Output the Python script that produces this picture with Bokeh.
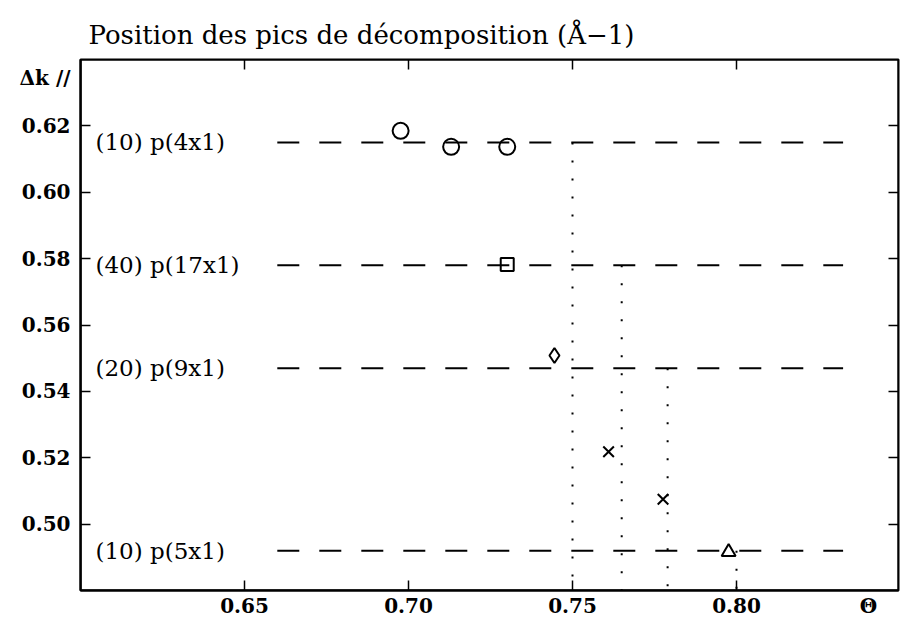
from bokeh.plotting import figure
from bokeh.models import FixedTicker, LinearAxis, Range1d
from bokeh.embed import file_html
from bokeh.resources import INLINE
from bokeh.core.properties import value

# ---------------- data ----------------
title_text = "Position  des pics de décomposition  (Å\u22121)"
x_axis_label = "\u0398"
y_axis_label = "\u0394k //"

x_ticks = [0.65, 0.70, 0.75, 0.80]
x_tick_labels = ["0.65", "0.70", "0.75", "0.80"]
y_ticks = [0.50, 0.52, 0.54, 0.56, 0.58, 0.60, 0.62]
y_tick_labels = ["0.50", "0.52", "0.54", "0.56", "0.58", "0.60", "0.62"]
x_label_pos = 0.8402   # where the Θ sits along the bottom
y_label_pos = 0.6345   # where the Δk // sits along the left

line_labels = ["(10) p(4x1)", "(40) p(17x1)", "(20) p(9x1)", "(10) p(5x1)"]
line_levels = [0.615, 0.578, 0.547, 0.492]
line_start = 0.660
line_end = 0.8325

drop_x = [0.750, 0.765, 0.779, 0.800]
drop_top = [0.615, 0.578, 0.547, 0.492]

circle_x = [0.6976, 0.7130, 0.7301]
circle_y = [0.6185, 0.6137, 0.6137]
square_x = [0.7301]
square_y = [0.5782]
diamond_x = [0.7445]
diamond_y = [0.5508]
cross_x = [0.7610, 0.7776]
cross_y = [0.5218, 0.5075]
triangle_x = [0.7976]
triangle_y = [0.4916]

x_start, y_start, y_end = 0.60, 0.48, 0.64

# ---------------- figure ----------------
W, H = 900, 626
ML, MR, MT = 80, 2, 59
FH = 531
MB = H - MT - FH
px_per_x = 3280.0
x_end = x_start + (W - ML - MR) / px_per_x

SERIF = "DejaVu Serif"

p = figure(width=W, height=H, output_backend="svg", toolbar_location=None,
           x_range=Range1d(x_start, x_end), y_range=Range1d(y_start, y_end),
           min_border_left=ML, min_border_right=MR, min_border_top=MT,
           min_border_bottom=MB, x_axis_location=None, y_axis_location=None)
p.grid.visible = False
p.outline_line_color = "black"
p.outline_line_width = 2
p.background_fill_color = "white"
p.border_fill_color = "white"

p.title.text = title_text
p.title.align = "left"
p.title.offset = 8
p.title.standoff = 19
p.title.text_font = SERIF
p.title.text_font_style = "normal"
p.title.text_font_size = "26px"
p.title.text_color = "black"


def label_axis(ticks, labels):
    ax = LinearAxis(ticker=FixedTicker(ticks=ticks))
    ax.major_label_overrides = {t: l for t, l in zip(ticks, labels)}
    ax.major_tick_line_color = None
    ax.minor_tick_line_color = None
    ax.major_tick_in = 0
    ax.major_tick_out = 0
    ax.axis_line_color = "black"
    ax.axis_line_width = 2
    ax.major_label_text_font = SERIF
    ax.major_label_text_font_style = "bold"
    ax.major_label_text_font_size = "20px"
    ax.major_label_text_color = "black"
    return ax


def tick_axis(ticks, loc):
    ax = LinearAxis(ticker=FixedTicker(ticks=ticks), fixed_location=loc)
    ax.major_tick_in = 10
    ax.major_tick_out = 0
    ax.major_tick_line_width = 1.5
    ax.major_tick_line_color = "black"
    ax.minor_tick_line_color = None
    ax.axis_line_color = "black"
    ax.axis_line_width = 2
    ax.major_label_text_font_size = "0px"
    ax.major_label_text_color = None
    ax.major_label_standoff = 0
    return ax


xlab = label_axis(x_ticks + [x_label_pos], x_tick_labels + [x_axis_label])
xlab.major_label_standoff = 3
ylab = label_axis(y_ticks + [y_label_pos], y_tick_labels + [y_axis_label])
ylab.major_label_standoff = 10
p.add_layout(xlab, "below")
p.add_layout(ylab, "left")
p.add_layout(tick_axis(x_ticks, y_start), "below")
p.add_layout(tick_axis(y_ticks, x_start), "left")
p.add_layout(tick_axis(x_ticks, y_end), "above")
p.add_layout(tick_axis(y_ticks, x_end), "right")

# horizontal dashed levels
p.segment(x0=[line_start] * len(line_levels), y0=line_levels,
          x1=[line_end] * len(line_levels), y1=line_levels,
          line_color="black", line_width=2, line_dash="22 20")

# vertical dotted drops
p.segment(x0=drop_x, y0=drop_top, x1=drop_x, y1=[y_start] * len(drop_x),
          line_color="black", line_width=2, line_dash="2 16")

# level labels
p.text(x=[x_start] * len(line_levels), y=line_levels, text=line_labels,
       x_offset=15, text_baseline="middle", text_align="left",
       text_font=value(SERIF), text_font_size="23px", text_color="black")

mk = dict(fill_color=None, line_color="black", line_width=2)
p.scatter(circle_x, circle_y, marker="circle", size=16, **mk)
p.scatter(square_x, square_y, marker="square", size=13, **mk)
p.scatter(diamond_x, diamond_y, marker="diamond", size=15, **mk)
p.scatter(cross_x, cross_y, marker="x", size=15, **mk)
p.scatter(triangle_x, triangle_y, marker="triangle", size=14, **mk)

open("out.html", "w").write(file_html(p, INLINE))
